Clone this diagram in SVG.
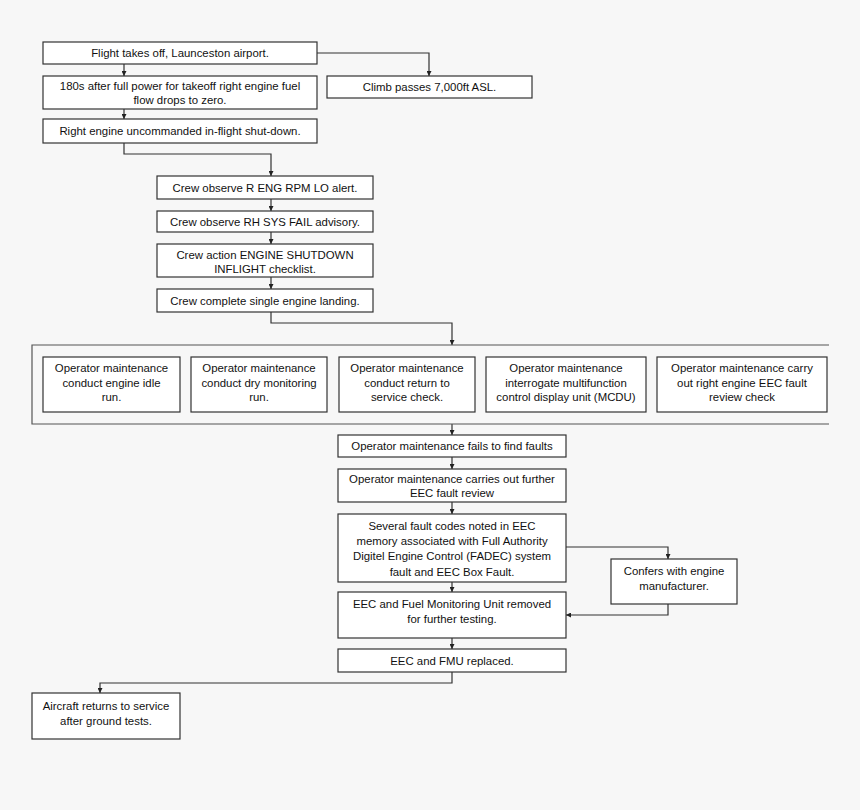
<svg xmlns="http://www.w3.org/2000/svg" width="860" height="810" viewBox="0 0 860 810">
<defs>
<style>
.b{fill:#fff;stroke:#333;stroke-width:1.2}
.c{fill:none;stroke:#333;stroke-width:1.2}
.t{font-family:"Liberation Sans",Arial,sans-serif;font-size:11.4px;fill:#111;text-anchor:middle}
</style>
<marker id="a" viewBox="0 0 8 8" refX="8" refY="4" markerWidth="5" markerHeight="5" orient="auto" markerUnits="userSpaceOnUse">
<path d="M0,0 L8,4 L0,8 z" fill="#222"/>
</marker>
</defs>
<rect width="860" height="810" fill="#f7f7f7"/>
<g id="connectors" class="c" marker-end="url(#a)">
<path d="M124,64 V76"/>
<path d="M124,109 V119"/>
<path d="M317,53 H429 V76"/>
<path d="M124,143 V154 H271 V176"/>
<path d="M271,199 V211"/>
<path d="M271,232 V244"/>
<path d="M271,277 V289"/>
<path d="M271,312 V323 H452 V345"/>
<path d="M452,424 V435"/>
<path d="M452,457 V469"/>
<path d="M452,502 V514"/>
<path d="M452,582 V592"/>
<path d="M566,547 H668 V559"/>
<path d="M668,604 V615 H566"/>
<path d="M452,638 V649"/>
<path d="M452,672 V683 H100 V693"/>
</g>
<g id="n1"><rect class="b" x="43" y="42" width="274" height="22"/><text class="t" x="180" y="57">Flight takes off, Launceston airport.</text></g>
<g id="n2"><rect class="b" x="43" y="76" width="274" height="33"/><text class="t" x="180" y="89.5">180s after full power for takeoff right engine fuel</text><text class="t" x="180" y="103.5">flow drops to zero.</text></g>
<g id="n3"><rect class="b" x="43" y="119" width="274" height="24"/><text class="t" x="180" y="135">Right engine uncommanded in-flight shut-down.</text></g>
<g id="n4"><rect class="b" x="327" y="76" width="205" height="22"/><text class="t" x="429.5" y="91">Climb passes 7,000ft ASL.</text></g>
<g id="n5"><rect class="b" x="157" y="176" width="216" height="23"/><text class="t" x="265" y="191.5">Crew observe R ENG RPM LO alert.</text></g>
<g id="n6"><rect class="b" x="157" y="211" width="216" height="21"/><text class="t" x="265" y="225.5">Crew observe RH SYS FAIL advisory.</text></g>
<g id="n7"><rect class="b" x="157" y="244" width="216" height="33"/><text class="t" x="265" y="258.5">Crew action ENGINE SHUTDOWN</text><text class="t" x="265" y="272.5">INFLIGHT checklist.</text></g>
<g id="n8"><rect class="b" x="157" y="289" width="216" height="23"/><text class="t" x="265" y="304.5">Crew complete single engine landing.</text></g>
<g id="container"><path d="M829,345 H32 V424 H829" fill="none" stroke="#555" stroke-width="1.2"/></g>
<g id="m1"><rect class="b" x="43" y="357" width="137" height="55"/><text class="t" x="111.5" y="372">Operator maintenance</text><text class="t" x="111.5" y="386.5">conduct engine idle</text><text class="t" x="111.5" y="401">run.</text></g>
<g id="m2"><rect class="b" x="191" y="357" width="136" height="55"/><text class="t" x="259" y="372">Operator maintenance</text><text class="t" x="259" y="386.5">conduct dry monitoring</text><text class="t" x="259" y="401">run.</text></g>
<g id="m3"><rect class="b" x="339" y="357" width="136" height="55"/><text class="t" x="407" y="372">Operator maintenance</text><text class="t" x="407" y="386.5">conduct return to</text><text class="t" x="407" y="401">service check.</text></g>
<g id="m4"><rect class="b" x="486" y="357" width="160" height="55"/><text class="t" x="566" y="372">Operator maintenance</text><text class="t" x="566" y="386.5">interrogate multifunction</text><text class="t" x="566" y="401">control display unit (MCDU)</text></g>
<g id="m5"><rect class="b" x="657" y="357" width="170" height="55"/><text class="t" x="742" y="372">Operator maintenance carry</text><text class="t" x="742" y="386.5">out right engine EEC fault</text><text class="t" x="742" y="401">review check</text></g>
<g id="n9"><rect class="b" x="338" y="435" width="228" height="22"/><text class="t" x="452" y="450">Operator maintenance fails to find faults</text></g>
<g id="n10"><rect class="b" x="338" y="469" width="228" height="33"/><text class="t" x="452" y="482.5">Operator maintenance carries out further</text><text class="t" x="452" y="496.5">EEC fault review</text></g>
<g id="n11"><rect class="b" x="338" y="514" width="228" height="68"/><text class="t" x="452" y="530">Several fault codes noted in EEC</text><text class="t" x="452" y="545">memory associated with Full Authority</text><text class="t" x="452" y="560">Digitel Engine Control (FADEC) system</text><text class="t" x="452" y="576">fault and EEC Box Fault.</text></g>
<g id="n12"><rect class="b" x="611" y="559" width="126" height="45"/><text class="t" x="674" y="575">Confers with engine</text><text class="t" x="674" y="590">manufacturer.</text></g>
<g id="n13"><rect class="b" x="338" y="592" width="228" height="46"/><text class="t" x="452" y="608">EEC and Fuel Monitoring Unit removed</text><text class="t" x="452" y="623">for further testing.</text></g>
<g id="n14"><rect class="b" x="338" y="649" width="228" height="23"/><text class="t" x="452" y="664.5">EEC and FMU replaced.</text></g>
<g id="n15"><rect class="b" x="32" y="693" width="148" height="46"/><text class="t" x="106" y="710">Aircraft returns to service</text><text class="t" x="106" y="725">after ground tests.</text></g>
</svg>
